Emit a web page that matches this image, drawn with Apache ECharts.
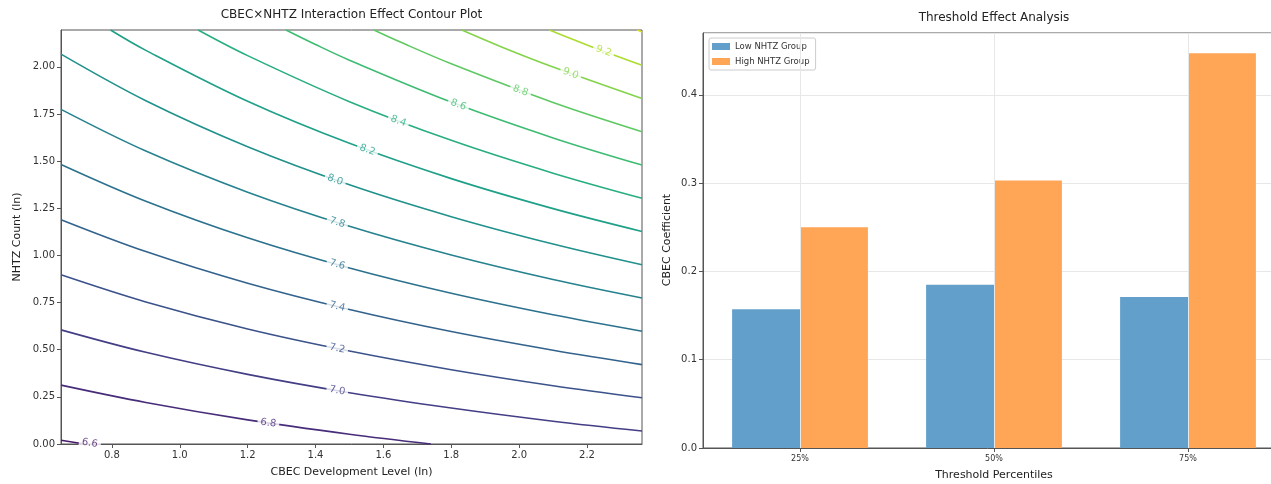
<!DOCTYPE html>
<html>
<head>
<meta charset="utf-8">
<script src="https://cdn.jsdelivr.net/npm/echarts@6/dist/echarts.min.js"></script>
<style>html,body{margin:0;padding:0;background:#fff}#c{width:1271px;height:484px}</style>
</head>
<body>
<div id="c"></div>
<script>
// ---------- Left panel: contour lines ----------
const X_TICKS = [0.8, 1.0, 1.2, 1.4, 1.6, 1.8, 2.0, 2.2];
const Y_TICKS = [0, 0.25, 0.5, 0.75, 1.0, 1.25, 1.5, 1.75, 2.0];
const LEVELS = [6.6, 6.8, 7.0, 7.2, 7.4, 7.6, 7.8, 8.0, 8.2, 8.4, 8.6, 8.8, 9.0, 9.2, 9.4];

const C66 = [[0.65,0.020],[0.719,0]];
const C68 = [[0.65,0.312],[0.9,0.220],[1.2,0.128],[1.5,0.052],[1.74,0]];
const C70 = [[0.65,0.605],[0.9,0.486],[1.2,0.369],[1.5,0.272],[1.8,0.191],[2.1,0.121],[2.362,0.069]];
const C72 = [[0.65,0.897],[0.9,0.753],[1.2,0.610],[1.5,0.493],[1.8,0.394],[2.1,0.309],[2.362,0.245]];
const C74 = [[0.65,1.189],[0.9,1.020],[1.2,0.852],[1.5,0.713],[1.8,0.596],[2.1,0.497],[2.362,0.421]];
const C76 = [[0.65,1.482],[0.9,1.287],[1.2,1.093],[1.5,0.933],[1.8,0.799],[2.1,0.685],[2.362,0.598]];
const C78 = [[0.65,1.774],[0.9,1.553],[1.2,1.335],[1.5,1.154],[1.8,1.002],[2.1,0.872],[2.362,0.774]];
const C80 = [[0.65,2.067],[0.9,1.820],[1.2,1.576],[1.5,1.374],[1.8,1.205],[2.1,1.060],[2.362,0.950]];
const C82 = [[0.796,2.195],[0.9,2.087],[1.2,1.817],[1.5,1.594],[1.8,1.407],[2.1,1.248],[2.362,1.127]];
const C84 = [[1.054,2.195],[1.2,2.059],[1.5,1.815],[1.8,1.610],[2.1,1.436],[2.362,1.303]];
const C86 = [[1.313,2.195],[1.4,2.118],[1.5,2.035],[1.8,1.813],[2.1,1.623],[2.362,1.479]];
const C88 = [[1.572,2.195],[1.65,2.131],[1.8,2.016],[2.1,1.811],[2.362,1.656]];
const C90 = [[1.831,2.195],[1.95,2.104],[2.1,1.999],[2.362,1.832]];
const C92 = [[2.089,2.195],[2.2,2.116],[2.362,2.008]];
const C94 = [[2.348,2.195],[2.362,2.185]];
const CONTOURS = [C66, C68, C70, C72, C74, C76, C78, C80, C82, C84, C86, C88, C90, C92, C94];

// inline label anchors (data coords) for levels 6.6 .. 9.2
const LABEL_POS = [[0.735,0.004],[1.261,0.111],[1.464,0.283],[1.464,0.506],[1.464,0.728],[1.464,0.951],
  [1.464,1.174],[1.458,1.400],[1.553,1.559],[1.644,1.712],[1.821,1.798],[2.004,1.873],[2.152,1.964],[2.249,2.083]];

// ---------- Right panel ----------
const CATS = ['25%', '50%', '75%'];
const LOW = [0.157, 0.185, 0.171];
const HIGH = [0.250, 0.303, 0.447];

// ---------- styles ----------
const COLORS = ['#48186a','#472c7a','#433e85','#3b528b','#33638d','#2c728e','#26828e','#21918c',
  '#1fa088','#28ae80','#3fbc73','#5ec962','#84d44b','#addc30','#d8e219'];
const LABEL_ROT = [-9, -8.4, -9.5, -11.5, -13.5, -15.5, -17.4, -19.3, -20.1, -20.8, -20.6, -20.2, -20.2, -20.5];
const FONT = 'DejaVu Sans';
const AX = '#555', TXT = '#333';

const chart = echarts.init(document.getElementById('c'), null, {renderer: 'canvas'});

const series = [];
CONTOURS.forEach((pts, i) => {
  series.push({
    type: 'line', xAxisIndex: 0, yAxisIndex: 0, data: pts,
    smooth: 0.35, showSymbol: false, symbol: 'none',
    lineStyle: {color: COLORS[i], width: 1.6}, clip: true, z: 2, silent: true
  });
});
series.push({
  type: 'scatter', xAxisIndex: 0, yAxisIndex: 0, symbolSize: 1, z: 5, silent: true,
  itemStyle: {color: 'rgba(0,0,0,0)'},
  data: LABEL_POS.map((p, i) => ({
    value: p,
    label: {
      show: true, position: 'inside', formatter: LEVELS[i].toFixed(1), rotate: LABEL_ROT[i],
      color: COLORS[i], fontSize: 10, fontFamily: FONT, backgroundColor: '#fff', padding: [0, 3]
    }
  }))
});
// vertical grid lines on right panel
series.push({
  type: 'line', xAxisIndex: 1, yAxisIndex: 1, data: [], z: 1, silent: true,
  markLine: {
    silent: true, symbol: 'none', label: {show: false},
    lineStyle: {color: '#e7e7e7', width: 1, type: 'solid'},
    data: CATS.map(c => ({xAxis: c}))
  }
});
series.push({
  name: 'Low NHTZ Group', type: 'bar', xAxisIndex: 1, yAxisIndex: 1, data: LOW,
  barWidth: '35%', barGap: '0%', itemStyle: {color: '#62a0cb'}, z: 2
});
series.push({
  name: 'High NHTZ Group', type: 'bar', xAxisIndex: 1, yAxisIndex: 1, data: HIGH,
  barWidth: '35%', barGap: '0%', itemStyle: {color: '#ffa556'}, z: 2
});

const txt = (text, x, y, size, rot) => ({
  type: 'text', x: x, y: y, rotation: rot || 0, silent: true,
  style: {text: text, fontSize: size, fontFamily: FONT, fill: '#222', textAlign: 'center', textVerticalAlign: 'middle'}
});

chart.setOption({
  animation: false,
  backgroundColor: '#fff',
  textStyle: {fontFamily: FONT},
  grid: [
    {left: 61, top: 30, width: 581, height: 414, show: true, borderColor: AX, borderWidth: 1,
      containLabel: false, outerBoundsMode: 'none'},
    {left: 703, top: 33, width: 582, height: 415, show: true, borderColor: AX, borderWidth: 1,
      containLabel: false, outerBoundsMode: 'none'}
  ],
  xAxis: [
    {type: 'value', gridIndex: 0, min: 0.65, max: 2.362,
      axisLine: {show: true, onZero: false, lineStyle: {color: AX}},
      axisTick: {show: true, length: 4, lineStyle: {color: AX}, customValues: X_TICKS},
      axisLabel: {customValues: X_TICKS, formatter: v => v.toFixed(1), color: TXT, fontSize: 10, margin: 6},
      splitLine: {show: false}},
    {type: 'category', gridIndex: 1, data: CATS,
      axisLine: {show: true, lineStyle: {color: AX}},
      axisTick: {show: true, alignWithLabel: true, length: 4, lineStyle: {color: AX}},
      axisLabel: {color: TXT, fontSize: 8, margin: 7},
      splitLine: {show: false}}
  ],
  yAxis: [
    {type: 'value', gridIndex: 0, min: 0, max: 2.195,
      axisLine: {show: true, onZero: false, lineStyle: {color: AX}},
      axisTick: {show: true, length: 4, lineStyle: {color: AX}, customValues: Y_TICKS},
      axisLabel: {customValues: Y_TICKS, formatter: v => v.toFixed(2), color: TXT, fontSize: 10, margin: 6},
      splitLine: {show: false}},
    {type: 'value', gridIndex: 1, min: 0, max: 0.47, interval: 0.1,
      axisLine: {show: true, onZero: false, lineStyle: {color: AX}},
      axisTick: {show: true, length: 4, lineStyle: {color: AX}},
      axisLabel: {formatter: v => v.toFixed(1), color: TXT, fontSize: 10, margin: 6, showMaxLabel: false},
      splitLine: {show: true, lineStyle: {color: '#e7e7e7', width: 1}}}
  ],
  legend: {
    orient: 'vertical', left: 709, top: 38, data: ['Low NHTZ Group', 'High NHTZ Group'],
    icon: 'rect', itemWidth: 18, itemHeight: 7, itemGap: 6,
    textStyle: {fontSize: 8.5, color: TXT, fontFamily: FONT},
    borderColor: '#ccc', borderWidth: 1, borderRadius: 2, padding: [4, 6, 4, 3],
    backgroundColor: 'rgba(255,255,255,0.85)'
  },
  graphic: [
    txt('CBEC×NHTZ Interaction Effect Contour Plot', 351.5, 15, 12),
    txt('CBEC Development Level (ln)', 351.5, 472, 11),
    txt('NHTZ Count (ln)', 17, 237, 11, Math.PI / 2),
    txt('Threshold Effect Analysis', 994, 18, 12),
    txt('Threshold Percentiles', 994, 475, 11),
    txt('CBEC Coefficient', 667, 240, 11, Math.PI / 2)
  ],
  series: series
});
</script>
</body>
</html>
